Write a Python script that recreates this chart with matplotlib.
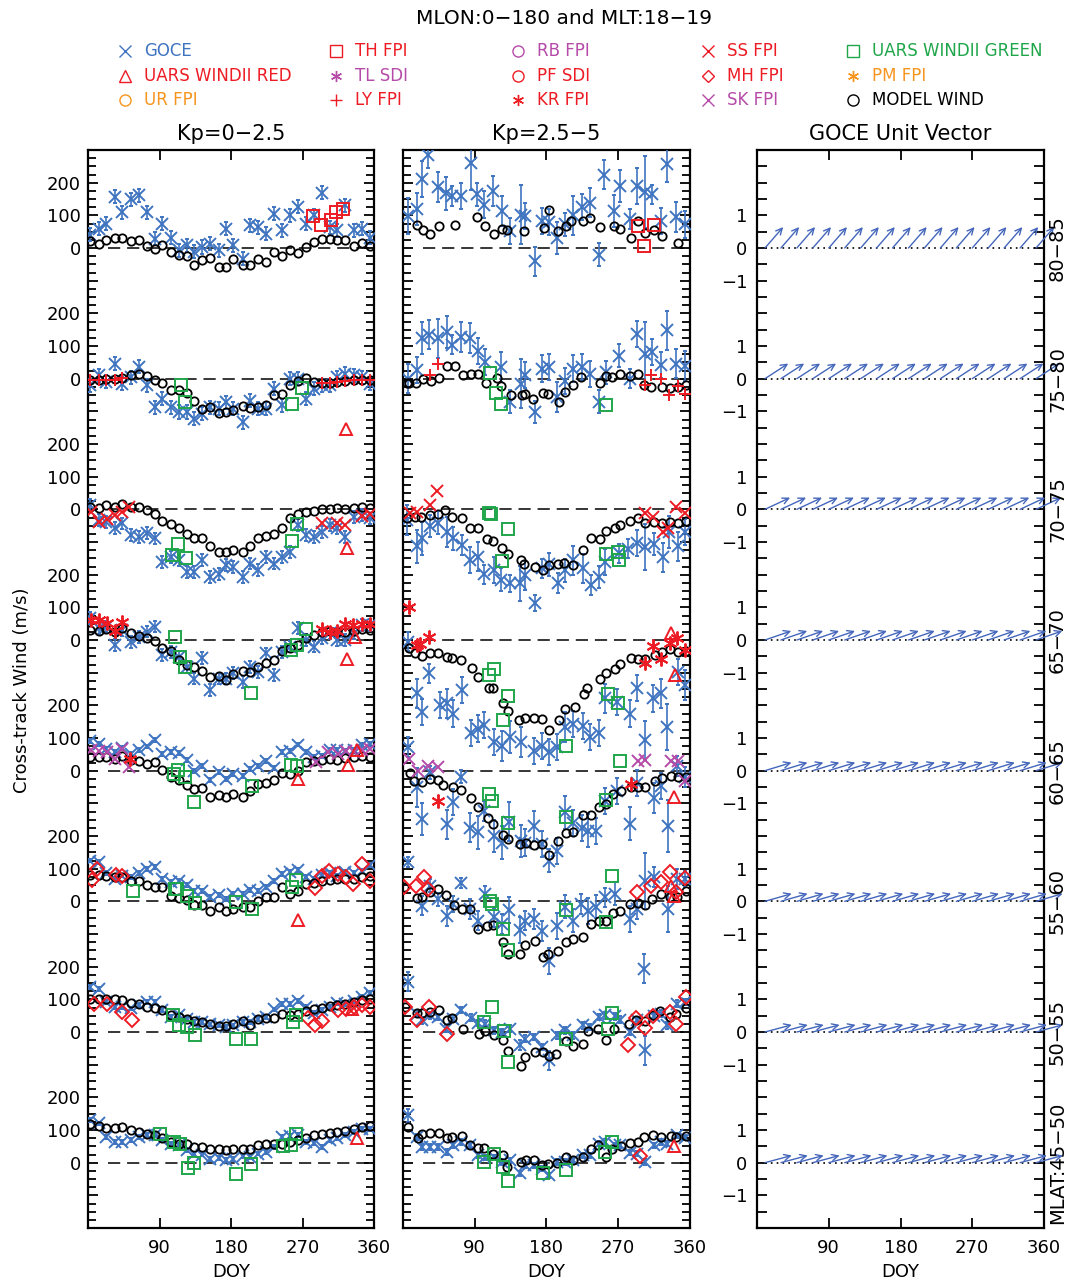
import numpy as np
import matplotlib.pyplot as plt
from matplotlib.lines import Line2D
from matplotlib.ticker import FixedLocator, MultipleLocator, FuncFormatter

plt.rcParams['font.family'] = ['DejaVu Sans']

BLUE = '#3f74c0'
RED = '#ed1c24'
MAGENTA = '#b54aa8'
ORANGE = '#f7941d'
GREEN = '#1fa64a'
ARROW = '#4466bb'

# Latitude bands, top to bottom, and where each one sits on the stacked axis
band_names = ['80-85', '75-80', '70-75', '65-70', '60-65', '55-60', '50-55', '45-50']
band_offset = [2800, 2400, 2000, 1600, 1200, 800, 400, 0]

# ---------------- Kp = 0-2.5 ----------------
kp1_doy = [3, 14, 23, 34, 43, 54, 64, 74, 84, 93, 104, 114, 125, 134, 144, 154, 165, 174,
           183, 195, 204, 214, 224, 234, 244, 254, 264, 274, 284, 295, 305, 314, 324, 335, 345, 355]

kp1_goce = [
    [41, 59, 75, 157, 110, 149, 162, 110, 29, 75, 31, -7, 8, -12, 3, 13, -7, 59,
     8, -33, 70, 64, 44, 105, 54, 100, 126, 75, 100, 169, 64, 54, 131, 54, 59, 31],
    [-20, 10, -10, 46, -15, 5, 36, -20, -87, -61, -87, -102, -102, -123, -107, -87, -92, -72,
     -92, -133, -67, -92, -92, -31, -82, 0, 0, -61, -31, -20, -20, 5, 15, 10, 5, -15],
    [13, -33, -38, -58, -43, -79, -84, -72, -89, -161, -145, -156, -191, -191, -156, -207, -197, -171,
     -176, -207, -166, -186, -145, -166, -145, -130, -48, -79, -84, -69, -48, -58, -84, -23, -17, -28],
    [67, 36, 41, -15, 31, -5, 10, 26, 41, -46, -36, -51, -82, -118, -56, -154, -118, -118,
     -102, -128, -82, -97, -41, -107, -36, -20, 36, 0, -20, 5, 20, 0, 0, 20, 46, 46],
    [92, 82, 67, 56, 70, 51, 63, 74, 95, 51, 56, 53, 33, 0, 15, -29, -5, -26,
     -10, -15, 5, 15, 31, 8, 56, 59, 80, 56, 43, 46, 63, 63, 59, 63, 79, 82],
    [125, 120, 86, 69, 79, 74, 86, 99, 106, 69, 58, 61, 51, 33, 33, 14, 20, 7,
     23, 23, 35, 33, 43, 61, 84, 89, 96, 76, 69, 82, 86, 79, 89, 86, 94, 110],
    [138, 133, 92, 77, 77, 72, 82, 92, 92, 67, 46, 51, 41, 31, 31, 23, 20, 15,
     20, 31, 31, 41, 46, 69, 87, 85, 95, 77, 58, 67, 77, 89, 87, 95, 107, 118],
    [132, 120, 79, 63, 63, 69, 79, 84, 84, 69, 58, 53, 38, 28, 25, 12, 15, 9,
     12, 19, 17, 28, 33, 48, 79, 81, 84, 63, 60, 48, 69, 74, 84, 94, 104, 104],
]
kp1_goce_err = [20, 20, 18, 18, 6, 6, 6, 6]

kp1_model = [
    [20, 12, 24, 31, 31, 20, 24, 6, -2, 8, -12, -20, -25, -51, -38, -30, -58, -58,
     -35, -51, -51, -35, -43, -12, -25, -7, -14, 2, 18, 27, 27, 26, 26, 6, 16, 6],
    [-5, -5, 0, 0, 3, 10, 15, 8, -5, -13, -36, -36, -43, -69, -92, -87, -105, -102,
     -97, -84, -90, -87, -82, -49, -46, -20, -8, 3, -10, -12, -12, -10, -8, -5, -3, -5],
    [6, 5, 13, 8, 16, 6, 6, -2, -14, -35, -45, -58, -74, -89, -89, -112, -130, -130,
     -123, -130, -113, -89, -81, -74, -56, -28, -15, -7, -4, 0, 1, 3, 1, 3, 6, 3],
    [31, 29, 33, 26, 36, 20, 12, 5, -3, -24, -34, -61, -77, -84, -94, -113, -110, -123,
     -104, -94, -99, -84, -69, -61, -33, -24, -15, 5, 15, 26, 29, 26, 26, 29, 33, 31],
    [43, 41, 43, 36, 46, 33, 29, 20, 26, 2, -20, -29, -43, -56, -54, -80, -75, -80,
     -70, -82, -61, -41, -39, -29, -7, -10, -2, 27, 29, 33, 36, 33, 38, 41, 44, 43],
    [82, 82, 79, 76, 76, 63, 63, 51, 45, 43, 17, 10, 4, -11, -10, -29, -18, -29,
     -24, -18, -16, 2, 12, 14, 43, 23, 33, 53, 55, 61, 66, 69, 69, 69, 76, 79],
    [102, 102, 102, 100, 97, 90, 87, 77, 72, 67, 51, 46, 41, 34, 31, 24, 17, 17,
     24, 34, 20, 41, 44, 44, 56, 51, 56, 64, 69, 75, 79, 82, 87, 92, 99, 102],
    [118, 113, 107, 107, 110, 99, 94, 89, 86, 76, 63, 58, 58, 48, 48, 43, 41, 38,
     43, 43, 43, 53, 58, 58, 58, 63, 69, 74, 84, 89, 91, 94, 96, 104, 110, 113],
]

kp1_th = [[(283.7, 98), (293.3, 70), (305.4, 85), (312.1, 111), (321.3, 119)], [], [], [], [], [], [], []]
kp1_ly = [[], [(3, -5), (14, -5), (23, -3), (34, -3), (43, 2), (295, -12), (305, -12), (314, -10),
               (324, -8), (335, -5), (345, -3), (355, -5)], [], [], [], [], [], []]
kp1_ss = [[], [], [(3.3, -7), (13.8, -38), (23.4, -31), (33.9, -17), (43.1, -7), (51.5, 6),
                   (294.1, -43), (313, -43), (323.4, -48), (344.4, -20), (354.8, -14)], [], [], [], [], []]
kp1_kr = [[], [], [], [(3.3, 61), (13.8, 61), (23.4, 51), (33.9, 29), (43.1, 56), (294.1, 33),
                       (304.6, 26), (313, 29), (323.4, 49), (333.9, 46), (344.4, 49), (354.8, 49)],
          [(52.3, 36)], [], [], []]
kp1_sk = [[], [], [], [], [(3.3, 63), (13.8, 59), (23.4, 56), (33.9, 36), (43.1, 67), (51.5, 12),
                           (287, 26), (302.5, 56), (314.2, 51), (324.3, 61), (334.7, 56), (344.4, 63),
                           (354.8, 67)], [], [], []]
kp1_mh = [[], [], [], [], [],
          [(5.4, 66), (11.7, 99), (34.7, 82), (43.1, 79), (285.8, 41), (294.1, 79), (303.8, 92),
           (314.2, 84), (324.3, 74), (333.9, 53), (344.4, 115), (354.8, 61)],
          [(7.5, 85), (23.4, 87), (43.1, 61), (55.6, 38), (277.4, 44), (285.8, 20), (294.1, 34),
           (314.2, 67), (324.3, 69), (334.7, 77), (344.4, 82), (354.8, 77)], []]
kp1_red = [[], [(325, -153)], [(325.5, -118)], [(336, 8), (325.5, -59)],
           [(264.9, -26), (327.6, 18), (338.1, 63)], [(264.9, -57)], [(331.8, 69)], [(338.1, 74)]]
kp1_green = [[],
             [(117.6, -18), (122.6, -72), (257.3, -77), (269, -29)],
             [(105.9, -140), (113, -106), (123.8, -150), (257.3, -96), (263.6, -46)],
             [(109.2, 8), (115.5, -51), (122.6, -82), (205.4, -161), (255.2, -31), (262.8, -15), (274.5, 33)],
             [(108, -10), (113, 3), (122.6, -18), (133, -97), (206.3, -46), (255.6, 18), (263.6, 15)],
             [(56.5, 31), (109.2, 38), (112.1, 38), (124.7, 17), (135.1, -6), (186.6, -3), (206.3, -24),
              (261.9, 66), (257.3, 43)],
             [(107.1, 51), (115.1, 20), (124.7, 15), (135.1, -10), (186.6, -20), (205.4, -20),
              (258.6, 31), (261.9, 51)],
             [(90, 89), (108, 63), (116.3, 58), (125.5, -15), (133, 0), (186.6, -36), (205.4, -3),
              (246, 50), (255.2, 53), (261.9, 89)]]

# ---------------- Kp = 2.5-5 ----------------
# GOCE: (doy, wind, error)
kp2_goce = [
    [(5.9, 98, 55), (17.2, 119, 50), (24.3, 211, 55), (31.8, 285, 40), (44.4, 187, 45), (53.6, 167, 50),
     (61.9, 160, 30), (72.8, 160, 40), (85.4, 259, 80), (92.5, 164, 35), (102.1, 133, 40), (113.4, 174, 45),
     (123.8, 113, 45), (134.3, 51, 40), (148.1, 102, 90), (153.1, 98, 40), (165.7, -41, 45), (174.1, 82, 40),
     (183.3, 80, 40), (193.7, 31, 50), (203.3, 72, 35), (213, 100, 60), (224.3, 126, 40), (234.7, 139, 45),
     (246, -20, 35), (252.7, 225, 45), (265.3, 113, 50), (272.4, 190, 50), (284.9, 88, 30), (294.6, 190, 55),
     (303.8, 172, 110), (313.4, 164, 30), (324.7, 82, 40), (332.2, 256, 55), (343.5, 95, 45), (354, 72, 40)],
    [(5.9, 0, 45), (17.2, 26, 40), (23.4, 125, 50), (32.6, 135, 45), (44.4, 123, 60), (54.8, 143, 50),
     (61.9, 104, 30), (72.8, 128, 45), (84.1, 125, 45), (93.7, 84, 40), (102.9, 51, 40), (123, 36, 45),
     (134.3, -70, 35), (148.1, -15, 75), (153.1, 10, 40), (165.7, -102, 35), (174.1, 31, 40), (183.3, 36, 40),
     (193.7, -56, 45), (203.3, -8, 40), (213, 31, 40), (224.3, 36, 40), (234.7, 15, 40), (246, -70, 35),
     (255.6, 20, 35), (271.5, 70, 35), (284.9, 0, 30), (294.6, 138, 40), (303.8, 77, 95), (313.4, 82, 40),
     (324.7, 41, 40), (332.2, 148, 60), (343.5, 46, 45), (354, 39, 45)],
    [(4.6, -33, 45), (17.2, -113, 50), (23.4, -89, 50), (33.9, -51, 35), (44.4, -41, 35), (54.8, -69, 45),
     (63.2, -89, 35), (73.6, -110, 30), (84.1, -156, 40), (93.7, -145, 45), (102.1, -199, 30), (114.6, -186, 40),
     (123, -215, 35), (134.3, -227, 25), (146.9, -227, 55), (153.1, -202, 45), (165.7, -287, 25), (174.1, -181, 30),
     (183.3, -168, 35), (195, -225, 30), (203.3, -186, 35), (213, -156, 45), (226.4, -181, 45), (236, -232, 30),
     (246, -207, 35), (254.4, -161, 40), (271.1, -135, 30), (282.8, -120, 30), (294.6, -102, 40), (303.8, -115, 70),
     (315.5, -106, 35), (326.8, -147, 45), (333.9, -69, 50), (345.6, -113, 45), (354, -69, 40)],
    [(5.9, -5, 30), (17.2, -163, 45), (23.4, -220, 40), (32.6, -102, 30), (46.4, -200, 40), (54.8, -194, 45),
     (63.2, -225, 40), (73.6, -154, 40), (85.4, -285, 40), (93.7, -271, 40), (102.1, -261, 40), (114.6, -312, 40),
     (123.8, -325, 45), (134.3, -297, 50), (148.1, -312, 45), (164.9, -340, 40), (174.1, -325, 40), (183.3, -343, 40),
     (193.7, -327, 40), (203.3, -266, 45), (213, -258, 40), (226.4, -264, 40), (234.7, -297, 40), (246, -285, 40),
     (254.4, -179, 45), (269.5, -189, 40), (284.9, -225, 40), (294.6, -147, 40), (303.8, -307, 60), (314.2, -179, 40),
     (324.7, -163, 45), (332.2, -266, 70), (345.6, -97, 40), (354, -138, 45)],
    [(5.9, 72, 30), (17.2, -51, 60), (23.4, -148, 50), (33.9, -5, 20), (54.8, -164, 45), (63.2, -97, 40),
     (72.8, -18, 20), (84.1, -174, 45), (93.7, -189, 50), (102.1, -123, 30), (114.6, -200, 50), (123.8, -220, 50),
     (133.1, -156, 60), (148.1, -215, 50), (153.1, -220, 40), (164.9, -169, 45), (174.1, -225, 40), (183.3, -276, 35),
     (193.7, -246, 40), (203.3, -128, 50), (213, -159, 40), (224.3, -175, 40), (232.6, -184, 50), (243.1, -184, 40),
     (254.4, -92, 40), (269.5, -61, 40), (284.9, -162, 50), (294.6, -39, 40), (315.5, -84, 45), (324.7, -46, 40),
     (333.1, -169, 80), (344.8, 15, 30), (354, -20, 30)],
    [(5.9, 120, 15), (23.4, -13, 30), (33.9, 48, 20), (44.4, 7, 20), (54.8, -44, 30), (63.2, -8, 25),
     (72.8, 55, 15), (84.1, -24, 30), (93.7, -59, 30), (102.9, 23, 25), (114.6, -49, 30), (123.8, -70, 30),
     (133.1, -27, 40), (146.9, -88, 40), (153.1, -59, 30), (164.9, -54, 30), (174.1, -90, 30), (183.3, -182, 40),
     (193.7, -75, 40), (203.3, -16, 35), (213.8, -59, 35), (223.4, -8, 30), (232.6, -29, 40), (243.1, -16, 35),
     (254.4, 12, 30), (266.9, 23, 35), (284.9, -54, 40), (294.6, -24, 30), (303.8, 63, 85), (315.5, 74, 30),
     (333.1, -24, 70), (344.8, 69, 30), (354, 69, 25)],
    [(5.9, 154, 30), (17.2, 56, 10), (23.4, 36, 10), (33.9, 51, 10), (44.4, 46, 10), (53.6, 10, 10),
     (63.2, 41, 10), (72.8, 67, 10), (85.4, 44, 10), (93.7, 28, 10), (102.9, 26, 10), (114.6, 5, 10),
     (123.8, 0, 10), (134.3, 10, 10), (146.9, -41, 15), (153.1, -20, 10), (164.9, -15, 10), (174.1, -46, 10),
     (183.3, -87, 30), (193.7, -10, 10), (203.3, 5, 10), (213, -10, 10), (226.4, 20, 10), (234.7, 15, 10),
     (246, 46, 10), (254.4, 51, 10), (266.9, 48, 10), (272.4, 38, 10), (284.9, 0, 10), (294.6, 36, 10),
     (302.9, 194, 45), (304.6, -56, 45), (315.5, 48, 10), (324.7, 56, 10), (332.2, 20, 10), (344.8, 87, 10),
     (354, 92, 10)],
    [(5.9, 145, 20), (17.2, 79, 10), (23.4, 48, 8), (33.9, 48, 8), (44.4, 48, 8), (54.8, 33, 8),
     (63.2, 53, 8), (72.8, 63, 8), (84.1, 53, 8), (93.7, 23, 8), (102.9, 17, 8), (114.6, 17, 8),
     (123.8, 2, 8), (134.3, 7, 8), (146.9, -32, 8), (153.1, -8, 8), (164.9, -8, 8), (174.1, -18, 8),
     (183.3, -39, 8), (193.7, 2, 8), (203.3, 2, 8), (213, 7, 8), (226.4, 23, 8), (234.7, 23, 8),
     (246, 58, 8), (254.4, 63, 8), (266.9, 53, 8), (272.4, 53, 8), (284.9, 30, 8), (294.6, 28, 8),
     (303.8, 2, 10), (315.5, 53, 8), (324.7, 63, 8), (332.2, 58, 8), (344.8, 84, 8), (354, 77, 8)],
]

kp2_model = [
    [(17.2, 70), (25.5, 54), (33.9, 44), (45.2, 68), (65.3, 70), (92.5, 95), (102.9, 67), (114.6, 43),
     (124.7, 57), (130.1, 56), (152.3, 53), (177, 61), (183.7, 116), (195, 51), (204.6, 68), (211.7, 83),
     (226.4, 82), (234.7, 92), (247.3, 63), (265.3, 68), (272.4, 57), (287, 32), (295.4, 82), (304.6, 46),
     (315.1, 54), (325.5, 37), (345.6, 16)],
    [(4.6, -12), (7.5, -12), (16.3, -12), (25.5, -2), (35.1, -8), (45.2, 2), (55.6, 38), (65.3, 39),
     (75.7, 10), (85.4, 15), (93.7, 15), (104.2, -12), (117.6, 3), (123, -23), (135.1, -51), (149, -51),
     (153.1, -46), (162.8, -61), (175.3, -43), (182.4, -46), (195.8, -70), (203.3, -41), (213, -18),
     (223.4, 5), (247.3, -12), (255.6, 8), (262.8, 4), (273.2, 14), (284.9, 8), (295.4, 15), (302.9, -18),
     (312.1, -24), (325.9, -26), (335.1, -29), (345.6, -26), (355.2, -18)],
    [(4.6, -25), (15.1, -23), (22.6, -23), (33.9, -17), (44.4, -14), (52.7, -2), (61.9, -23), (73.6, -25),
     (84.1, -58), (93.7, -58), (105, -91), (112.6, -96), (123.8, -117), (132.2, -137), (147.7, -154),
     (151.9, -168), (165.7, -178), (175.3, -186), (183.7, -171), (195, -166), (202.5, -164), (213.8, -171),
     (226.4, -125), (236.8, -89), (248.1, -92), (254.8, -66), (266.1, -58), (272.4, -48), (285.8, -36),
     (295.4, -28), (303.8, -43), (315.1, -38), (325.9, -43), (336, -38), (345.6, -43), (355.2, -35)],
    [(7.5, -26), (15.1, -41), (23.4, -48), (33.9, -41), (44.4, -39), (54.8, -53), (61.9, -55), (72.8, -61),
     (87, -87), (94.6, -113), (108.4, -146), (113.4, -146), (125.9, -192), (132.2, -217), (145.6, -244),
     (153.1, -238), (164.9, -238), (174.1, -241), (183.3, -276), (196.2, -244), (203.3, -210), (215.9, -205),
     (227.6, -164), (231.8, -148), (247.3, -118), (255.6, -102), (266.1, -90), (272.4, -74), (286.2, -56),
     (295.4, -58), (303.8, -58), (316.3, -46), (325.9, -38), (335.1, -28), (345.6, -38), (355.2, -34)],
    [(8.8, -8), (14.2, -31), (23.4, -36), (33.9, -26), (44.4, -29), (50.6, -44), (63.2, -51), (72.8, -59),
     (85.4, -84), (94.6, -111), (106.3, -145), (112.6, -162), (125.9, -197), (132.2, -210), (146.9, -225),
     (154, -220), (164.9, -227), (174.1, -225), (183.3, -258), (195, -215), (204.6, -192), (214.2, -189),
     (226.4, -135), (236, -135), (246, -111), (254.8, -102), (264, -72), (273.6, -63), (286.2, -51),
     (295.4, -49), (304.6, -49), (316.3, -31), (325.9, -23), (336.4, -15), (345.6, -20), (355.2, -18)],
    [(1.7, 45), (17.2, 10), (23.4, 12), (33.9, 28), (44.4, 38), (53.6, 20), (64.4, -10), (73.6, -24),
     (84.1, -24), (94.6, -85), (105, -77), (112.6, -73), (125.1, -126), (131.4, -160), (146.9, -160),
     (153.1, -133), (165.7, -121), (175.3, -169), (182.4, -162), (195, -151), (204.2, -126), (214.2, -116),
     (226.4, -110), (236, -70), (246, -59), (255.6, -59), (264, -37), (272.4, -29), (284.9, -8), (295.4, -6),
     (304.6, -10), (313, 7), (324.7, 23), (335.1, 12), (344.8, 14), (355.2, 33)],
    [(2.5, 77), (17.2, 59), (24.3, 58), (33.9, 61), (45.2, 67), (55.6, 36), (61.9, 44), (75.7, 8),
     (95.8, -5), (102.9, 3), (114.2, -10), (125.9, -26), (132.2, -58), (148.1, -105), (153.1, -77),
     (165.7, -61), (175.3, -61), (183.3, -72), (192, -67), (204.6, -29), (213, -44), (226.4, -36),
     (232.6, 3), (245.2, 8), (254.8, -26), (265.3, 10), (284.1, 26), (293.3, 36), (303.8, 33), (314.2, 51),
     (323.4, 64), (335.1, 46), (342.7, 54), (355.2, 72)],
    [(6.7, 110), (18.4, 77), (23.4, 89), (33.9, 91), (45.2, 91), (55.6, 74), (61.9, 79), (73.6, 81),
     (84.1, 53), (93.7, 45), (102.1, 45), (113.4, 28), (125.9, 23), (131, -13), (148.1, 2), (154, 7),
     (164.9, 7), (174.1, -8), (182.4, -5), (194.1, -1), (205.4, 17), (213.8, 9), (226.4, 17), (236.8, 43),
     (245.2, 53), (254.8, 17), (262.8, 43), (273.6, 50), (285.8, 60), (295.4, 63), (302.9, 79), (314.2, 84),
     (324.7, 79), (336.4, 81), (342.7, 79), (355.2, 82)],
]

kp2_th = [[(295.4, 67), (302.9, 5), (315.1, 70)], [], [], [], [], [], [], []]
kp2_ly = [[], [(33.9, 10), (44.4, 46), (303.8, -20), (312.1, 10), (324.7, 0), (333.9, -49),
               (345.6, -23), (354, -46)], [], [], [], [], [], []]
kp2_ss = [[], [], [(8.8, -10), (17.2, -7), (33.9, 13), (42.3, 57), (303.8, -12), (314.2, -23),
                   (326.8, -69), (333.1, -58), (343.5, 6), (354, -10)], [], [], [], [], []]
kp2_kr = [[], [], [], [(7.5, 100), (17.2, -15), (21.3, -12), (32.6, 10), (303.8, -70), (314.2, -18),
                       (324.7, -59), (335.1, -8), (344.8, 5), (354, -31)],
          [(44.4, -94), (286.2, -41)], [], [], []]
kp2_sk = [[], [], [], [], [(7.5, 36), (19.2, 0), (31.8, 15), (44.4, 12), (295.4, 29), (303.8, 33),
                           (337.2, 29), (345.6, 31), (354, -33)], [], [], []]
kp2_mh = [[], [], [], [], [],
          [(1.7, 45), (15.9, 48), (26.8, 74), (31.8, 38), (294.6, 30), (312.1, 48), (324.7, 58),
           (335.1, 89), (343.5, 28), (354, 72)],
          [(2.5, 77), (17.2, 38), (33.1, 77), (54.8, -7), (282.8, -41), (293.3, 44), (304.6, 13),
           (314.2, 48), (335.1, 61), (343.5, 26), (355.2, 107)],
          [(297.5, 19)]]
kp2_red = [[], [], [], [(337.2, 20), (341.4, -107)], [(340.6, -82)], [(336.4, 48), (340.6, 17)], [],
           [(340.6, 50)]]
kp2_green = [[],
             [(109.2, 17), (116.3, -43), (123, -77), (255.6, -80)],
             [(107.9, -10), (110.5, -14), (132.2, -61), (124.7, -158), (255.6, -137), (270.3, -130), (271.1, -156)],
             [(107.9, -107), (114.2, -90), (132.2, -172), (125.9, -246), (205.4, -325), (257.7, -166), (270.3, -192)],
             [(108.4, -70), (111.3, -94), (131.4, -159), (205.4, -143), (255.6, -90), (272.4, 29)],
             [(109.2, 0), (111.3, -8), (125.9, -85), (132.2, -149), (205.4, -27), (255.6, -64), (262.8, 79)],
             [(102.1, 31), (112.1, 77), (126.8, 3), (131.4, -92), (205.4, -20), (257.7, 10), (262.8, 58)],
             [(102.1, 2), (114.6, 28), (125.9, -13), (131.4, -56), (176.2, -32), (205.4, -21), (254.4, 33), (262, 63)]]

# ---------------- GOCE unit vector ----------------
vec_doy = [10, 30, 50, 70, 90, 110, 130, 150, 170, 190, 210, 230, 250, 270, 290, 310, 330, 350]
vec_angle = [49, 33, 25, 19, 17, 16, 15, 15]   # degrees above east, per band

# legend: label, marker, colour (column-major, 5 columns x 3 rows)
leg_labels = ['GOCE', 'UARS WINDII RED', 'UR FPI', 'TH FPI', 'TL SDI', 'LY FPI',
              'RB FPI', 'PF SDI', 'KR FPI', 'SS FPI', 'MH FPI', 'SK FPI',
              'UARS WINDII GREEN', 'PM FPI', 'MODEL WIND']
leg_markers = ['x', '^', 'o', 's', (6, 2, 0), '+', 'o', 'o', (6, 2, 0), 'x', 'D', 'x', 's', (6, 2, 0), 'o']
leg_colors = [BLUE, RED, ORANGE, RED, MAGENTA, RED, MAGENTA, RED, RED, RED, RED, MAGENTA, GREEN, ORANGE, 'black']

# marker style of each extra instrument
styles = {
    'th': dict(marker='s', color=RED, ms=9),
    'ly': dict(marker='+', color=RED, ms=9),
    'ss': dict(marker='x', color=RED, ms=9),
    'kr': dict(marker=(6, 2, 0), color=RED, ms=10),
    'sk': dict(marker='x', color=MAGENTA, ms=9),
    'mh': dict(marker='D', color=RED, ms=7),
    'red': dict(marker='^', color=RED, ms=8),
    'green': dict(marker='s', color=GREEN, ms=9),
}

W, H = 1076, 1282
fig = plt.figure(figsize=(W / 100, H / 100), dpi=100)

def px_box(x0, x1, y0, y1):
    return [x0 / W, 1 - y1 / H, (x1 - x0) / W, (y1 - y0) / H]

ax1 = fig.add_axes(px_box(88, 374, 150, 1228))
ax2 = fig.add_axes(px_box(403, 689.5, 150, 1228))
ax3 = fig.add_axes(px_box(757, 1044, 150, 1228))


def wind_fmt(v, pos):
    for off in band_offset:
        rel = int(round(v - off))
        if rel in (0, 100, 200):
            return str(rel)
    return ''


def unit_fmt(v, pos):
    for off in band_offset:
        rel = int(round(v - off))
        if rel in (-100, 0, 100):
            return {100: '1', 0: '0', -100: '\u22121'}[rel]
    return ''


def style_axis(ax, minor, fmt, show_labels=True):
    ax.set_xlim(0, 360)
    ax.set_ylim(-200, 3100)
    ax.xaxis.set_major_locator(FixedLocator([90, 180, 270, 360]))
    ax.yaxis.set_major_locator(MultipleLocator(100))
    ax.yaxis.set_minor_locator(MultipleLocator(minor))
    ax.yaxis.set_major_formatter(FuncFormatter(fmt))
    ax.tick_params(axis='both', which='both', direction='in', top=True, right=True, width=1.3)
    ax.tick_params(axis='y', which='major', length=7, labelsize=13, pad=5, labelleft=show_labels)
    ax.tick_params(axis='y', which='minor', length=5.5 if minor < 50 else 7)
    ax.tick_params(axis='x', which='major', length=7, labelsize=13, pad=8)
    for s in ax.spines.values():
        s.set_linewidth(1.6)
    ax.set_xlabel('DOY', fontsize=13, labelpad=4)


def draw_extra(ax, data, key):
    st = styles[key]
    for k in range(8):
        if not data[k]:
            continue
        d = [p[0] for p in data[k]]
        v = [p[1] + band_offset[k] for p in data[k]]
        ax.plot(d, v, ls='none', marker=st['marker'], ms=st['ms'], mfc='none',
                mec=st['color'], mew=1.4, zorder=5)


# ---- panel 1 ----
for k in range(8):
    off = band_offset[k]
    ax1.hlines(off, 25, 358, colors='k', linestyles=(0, (8, 4.5)), lw=1.1, zorder=1)
    ax1.errorbar(kp1_doy, np.array(kp1_goce[k]) + off, yerr=kp1_goce_err[k], fmt='x', color=BLUE,
                 ms=8, mew=1.4, elinewidth=1.2, capsize=1.5, zorder=3)
    ax1.plot(kp1_doy, np.array(kp1_model[k]) + off, ls='none', marker='o', ms=6, mfc='none',
             mec='black', mew=1.3, zorder=4)
for data, key in [(kp1_sk, 'sk'), (kp1_kr, 'kr'), (kp1_ss, 'ss'), (kp1_mh, 'mh'), (kp1_ly, 'ly'),
                  (kp1_th, 'th'), (kp1_red, 'red'), (kp1_green, 'green')]:
    draw_extra(ax1, data, key)
style_axis(ax1, 25, wind_fmt)
ax1.set_title('Kp=0\u22122.5', fontsize=15, pad=7)

# ---- panel 2 ----
for k in range(8):
    off = band_offset[k]
    ax2.hlines(off, 25, 358, colors='k', linestyles=(0, (8, 4.5)), lw=1.1, zorder=1)
    d = [p[0] for p in kp2_goce[k]]
    v = [p[1] + off for p in kp2_goce[k]]
    e = [p[2] for p in kp2_goce[k]]
    ax2.errorbar(d, v, yerr=e, fmt='x', color=BLUE, ms=8, mew=1.4, elinewidth=1.2, capsize=1.5, zorder=3)
    md = [p[0] for p in kp2_model[k]]
    mv = [p[1] + off for p in kp2_model[k]]
    ax2.plot(md, mv, ls='none', marker='o', ms=6, mfc='none', mec='black', mew=1.3, zorder=4)
for data, key in [(kp2_sk, 'sk'), (kp2_kr, 'kr'), (kp2_ss, 'ss'), (kp2_mh, 'mh'), (kp2_ly, 'ly'),
                  (kp2_th, 'th'), (kp2_red, 'red'), (kp2_green, 'green')]:
    draw_extra(ax2, data, key)
style_axis(ax2, 25, wind_fmt, show_labels=False)
ax2.set_title('Kp=2.5\u22125', fontsize=15, pad=7)

# ---- panel 3 ----
arrow_len = 20  # points
for k in range(8):
    off = band_offset[k]
    ax3.hlines(off, 10, 360, colors='k', linestyles=(0, (1, 2.5)), lw=1.2, zorder=1)
    a = np.deg2rad(vec_angle[k])
    for d in vec_doy:
        ax3.annotate('', xy=(d, off), xycoords='data',
                     xytext=(arrow_len * np.cos(a), arrow_len * np.sin(a)), textcoords='offset points',
                     arrowprops=dict(arrowstyle='<-,head_length=0.45,head_width=0.22', color=ARROW,
                                     lw=1.0, shrinkA=0, shrinkB=0, mutation_scale=10),
                     annotation_clip=False)
    name = band_names[k].replace('-', '\u2212')
    if k == 7:
        name = 'MLAT:' + name
    ax3.text(1.047, off, name, transform=ax3.get_yaxis_transform(), rotation=90,
             ha='center', va='center', fontsize=14)
style_axis(ax3, 50, unit_fmt)
ax3.tick_params(axis='y', which='major', pad=7)
ax3.set_title('GOCE Unit Vector', fontsize=15, pad=7)

# ---- figure texts ----
fig.text(564 / W, 1 - 19 / H, 'MLON:0\u2212180 and MLT:18\u221219', ha='center', va='center', fontsize=14.5)
fig.text(22 / W, 1 - 690 / H, 'Cross-track Wind (m/s)', rotation=90, ha='center', va='center', fontsize=13)

col_x = [125, 336, 518, 708, 853]
row_y = [51, 76, 100]
for i, (lab, mk, c) in enumerate(zip(leg_labels, leg_markers, leg_colors)):
    cx = col_x[i // 3]
    cy = row_y[i % 3]
    ms = 9 if mk in ('x', '+', 's') else 8
    if mk == 'D':
        ms = 6.5
    fig.add_artist(Line2D([cx / W], [1 - cy / H], transform=fig.transFigure, marker=mk, ms=ms,
                          mfc='none', mec=c, mew=1.0, ls='none'))
    fig.text((cx + 19) / W, 1 - cy / H, lab, color=c, ha='left', va='center', fontsize=12)

fig.savefig('out.png', dpi=100)
